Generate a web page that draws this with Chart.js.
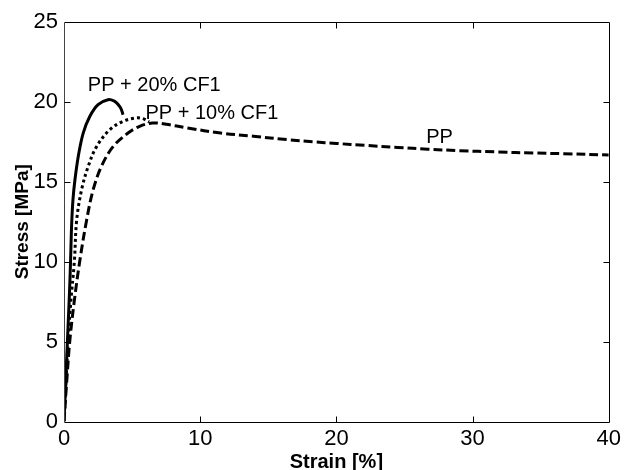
<!DOCTYPE html>
<html>
<head>
<meta charset="utf-8">
<title>Stress-strain curves</title>
<script src="https://cdn.jsdelivr.net/npm/chart.js@4.4.1/dist/chart.umd.min.js"></script>
<style>
    html, body { margin: 0; padding: 0; background: #fff; }
    canvas { display: block; }
</style>
</head>
<body>
<canvas id="stressChart" width="625" height="470"></canvas>
<script>
// Strain [%] / stress [MPa] pairs for each material
const cf20Strain = [0, 0.1, 0.2, 0.3, 0.4, 0.48, 0.56, 0.66, 0.8, 1.05, 1.41, 1.9, 2.5, 3.23, 3.7, 3.96, 4.2, 4.33];
const cf20Stress = [0, 2, 4, 6, 8, 10, 12.3, 13.9, 15.1, 16.6, 18.05, 19.1, 19.83, 20.14, 20.05, 19.85, 19.55, 19.2];

const cf10Strain = [0, 0.15, 0.3, 0.5, 0.76, 0.93, 1.29, 1.78, 2.39, 3.36, 4.33, 5.3, 5.8, 6.25];
const cf10Stress = [0, 2.5, 5, 7.5, 10, 12.6, 14.5, 15.97, 17.2, 18.26, 18.78, 19.0, 18.95, 18.75];

const ppStrain = [0, 0.2, 0.42, 0.75, 1.15, 1.66, 2.14, 2.75, 3.6, 4.7, 5.55, 6.5, 7.5, 9.07, 11.5, 13.9, 16.4, 18.3, 20, 22.1, 24.5, 26.7, 29, 31.8, 34.5, 36.7, 40];
const ppStress = [0, 2.5, 5, 7.5, 10, 12.6, 14.5, 15.97, 17.2, 18.05, 18.47, 18.68, 18.6, 18.37, 18.05, 17.85, 17.64, 17.5, 17.4, 17.28, 17.15, 17.04, 16.95, 16.87, 16.8, 16.76, 16.68];

// Curve labels, placed in data coordinates
const labelTexts = ['PP + 20% CF1', 'PP + 10% CF1', 'PP'];
const labelStrain = [6.63, 10.86, 27.57];
const labelStress = [21.0, 19.25, 17.78];

const xTicks = [0, 10, 20, 30, 40];
const yTicks = [0, 5, 10, 15, 20, 25];

const FONT = '"Liberation Sans", Arial, Helvetica, sans-serif';

function toPoints(xs, ys) {
    return xs.map((x, i) => ({ x: x, y: ys[i] }));
}

// Box around the plot with inward ticks, plus the curve labels
const framePlugin = {
    id: 'frame',
    afterDatasetsDraw(chart) {
        const ctx = chart.ctx;
        const area = chart.chartArea;
        const xs = chart.scales.x;
        const ys = chart.scales.y;
        const tick = 6;
        const l = Math.round(area.left) + 0.5;
        const r = Math.round(area.right) + 0.5;
        const t = Math.round(area.top) + 0.5;
        const b = Math.round(area.bottom) + 0.5;

        ctx.save();
        ctx.lineWidth = 1;
        ctx.strokeStyle = '#000';
        ctx.beginPath();
        ctx.moveTo(l, t); ctx.lineTo(r, t); ctx.lineTo(r, b); ctx.lineTo(l, b);
        ctx.stroke();
        ctx.strokeStyle = '#444';
        ctx.beginPath();
        ctx.moveTo(l, t); ctx.lineTo(l, b);
        ctx.stroke();

        ctx.strokeStyle = '#000';
        ctx.beginPath();
        xTicks.slice(1, -1).forEach(v => {
            const px = Math.round(xs.getPixelForValue(v)) + 0.5;
            ctx.moveTo(px, b); ctx.lineTo(px, b - tick);
            ctx.moveTo(px, t); ctx.lineTo(px, t + tick);
        });
        yTicks.slice(1, -1).forEach(v => {
            const py = Math.round(ys.getPixelForValue(v)) + 0.5;
            ctx.moveTo(l, py); ctx.lineTo(l + tick, py);
            ctx.moveTo(r, py); ctx.lineTo(r - tick, py);
        });
        ctx.stroke();

        ctx.fillStyle = '#000';
        ctx.font = '20px ' + FONT;
        ctx.textAlign = 'center';
        ctx.textBaseline = 'middle';
        labelTexts.forEach((txt, i) => {
            ctx.fillText(txt, xs.getPixelForValue(labelStrain[i]), ys.getPixelForValue(labelStress[i]));
        });
        ctx.restore();
    }
};

const ctx = document.getElementById('stressChart').getContext('2d');
const stressChart = new Chart(ctx, {
    type: 'line',
    data: {
        datasets: [
            {
                label: 'PP + 20% CF1',
                data: toPoints(cf20Strain, cf20Stress),
                borderColor: '#000',
                borderWidth: 3,
                tension: 0.35
            },
            {
                label: 'PP + 10% CF1',
                data: toPoints(cf10Strain, cf10Stress),
                borderColor: '#000',
                borderWidth: 3,
                borderDash: [3, 3],
                tension: 0.35
            },
            {
                label: 'PP',
                data: toPoints(ppStrain, ppStress),
                borderColor: '#000',
                borderWidth: 3,
                borderDash: [9, 4],
                tension: 0.35
            }
        ]
    },
    options: {
        responsive: false,
        animation: false,
        devicePixelRatio: 1,
        layout: {
            padding: { top: 22, right: 13, bottom: 0, left: 0 }
        },
        elements: {
            point: { radius: 0 }
        },
        plugins: {
            legend: { display: false },
            tooltip: { enabled: false }
        },
        scales: {
            x: {
                type: 'linear',
                min: 0,
                max: 40,
                afterFit: function(scale) { scale.height = 48.5; },
                afterBuildTicks: function(scale) {
                    scale.ticks = xTicks.map(v => ({ value: v }));
                },
                grid: { display: false, drawTicks: false },
                border: { display: false },
                ticks: {
                    color: '#000',
                    padding: 4,
                    maxRotation: 0,
                    font: { family: FONT, size: 22 }
                },
                title: {
                    display: true,
                    text: 'Strain [%]',
                    color: '#000',
                    padding: { top: 0, bottom: 0 },
                    font: { family: FONT, size: 20, weight: 'bold', lineHeight: 0.8 }
                }
            },
            y: {
                min: 0,
                max: 25,
                afterFit: function(scale) { scale.width = 64; },
                afterBuildTicks: function(scale) {
                    scale.ticks = yTicks.map(v => ({ value: v }));
                },
                grid: { display: false, drawTicks: false },
                border: { display: false },
                ticks: {
                    color: '#000',
                    padding: 6,
                    font: { family: FONT, size: 22 }
                },
                title: {
                    display: true,
                    text: 'Stress [MPa]',
                    color: '#000',
                    padding: { top: 11.6, bottom: 0 },
                    font: { family: FONT, size: 19, weight: 'bold', lineHeight: 1.2 }
                }
            }
        }
    },
    plugins: [framePlugin]
});
</script>
</body>
</html>
